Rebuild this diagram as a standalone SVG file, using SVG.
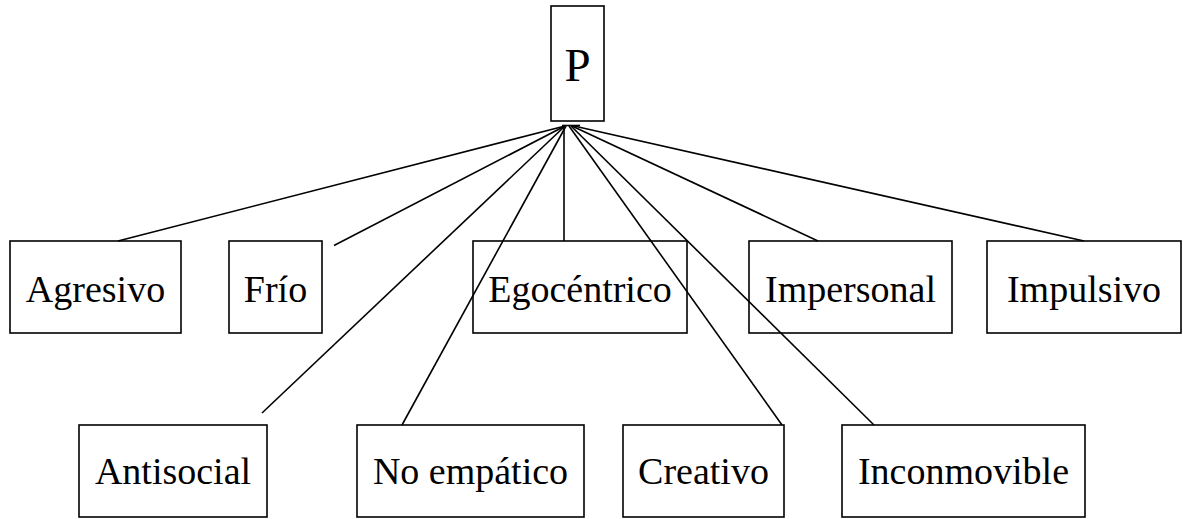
<svg xmlns="http://www.w3.org/2000/svg" width="1183" height="519" viewBox="0 0 1183 519">
<style>
.box{fill:none;stroke:#000;stroke-width:1.6}
.lbl{font-family:"Liberation Serif","Times New Roman",serif;font-size:38px;fill:#000;text-anchor:middle}
.big{font-size:47px}
.con line{stroke:#000;stroke-width:1.6;fill:none}
</style>
<rect width="1183" height="519" fill="#fff"/>
<g id="connectors" class="con">
<line x1="565" y1="126" x2="118" y2="241"/>
<line x1="565" y1="126" x2="334" y2="245.5"/>
<line x1="565" y1="126" x2="262" y2="413"/>
<line x1="566" y1="126" x2="402" y2="425"/>
<line x1="564" y1="126" x2="564" y2="241"/>
<line x1="569" y1="126" x2="782" y2="425"/>
<line x1="571" y1="126" x2="874" y2="425"/>
<line x1="572" y1="126" x2="818" y2="241"/>
<line x1="574" y1="126" x2="1084" y2="241"/>
<line x1="562" y1="125.5" x2="580" y2="125.5"/>
</g>
<g id="node-P"><rect class="box" x="551" y="6" width="53" height="115"/><text class="lbl big" x="577.5" y="81">P</text></g>
<g id="node-agresivo"><rect class="box" x="10" y="241" width="171" height="92"/><text class="lbl" x="95.5" y="302">Agresivo</text></g>
<g id="node-frio"><rect class="box" x="229" y="241" width="93" height="92"/><text class="lbl" x="275.5" y="302">Frío</text></g>
<g id="node-egocentrico"><rect class="box" x="473" y="241" width="214" height="92"/><text class="lbl" x="580" y="302">Egocéntrico</text></g>
<g id="node-impersonal"><rect class="box" x="749" y="241" width="203" height="92"/><text class="lbl" x="850.5" y="302">Impersonal</text></g>
<g id="node-impulsivo"><rect class="box" x="987" y="241" width="194" height="92"/><text class="lbl" x="1084" y="302">Impulsivo</text></g>
<g id="node-antisocial"><rect class="box" x="79" y="425" width="188" height="92"/><text class="lbl" x="173" y="484">Antisocial</text></g>
<g id="node-noempatico"><rect class="box" x="357" y="425" width="227" height="92"/><text class="lbl" x="470.5" y="484">No empático</text></g>
<g id="node-creativo"><rect class="box" x="623" y="425" width="161" height="92"/><text class="lbl" x="703.5" y="484">Creativo</text></g>
<g id="node-inconmovible"><rect class="box" x="842" y="425" width="243" height="92"/><text class="lbl" x="963.5" y="484">Inconmovible</text></g>
</svg>
